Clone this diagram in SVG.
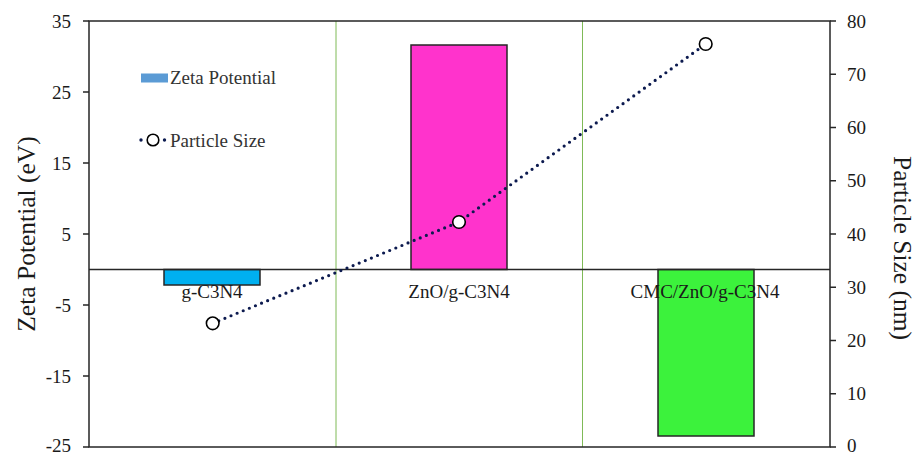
<svg xmlns="http://www.w3.org/2000/svg" width="916" height="454" viewBox="0 0 916 454">
<style>
text{font-family:"Liberation Serif","Times New Roman",serif;fill:#1a1a1a}
.tk{font-size:19px}
.tl{text-anchor:end}
.cat{font-size:19px;text-anchor:middle}
.ttl{font-size:25.5px;text-anchor:middle}
.ax{stroke:#262626;stroke-width:1.5;fill:none}
.grid{stroke:#7fba57;stroke-width:1;fill:none}
.bar{stroke:#262626;stroke-width:1.5}
.ps{stroke:#0c1a4f;stroke-width:3.2;stroke-linecap:round;stroke-dasharray:0 6.6;fill:none}
.mk{fill:#fff;stroke:#000;stroke-width:1.6}
</style>
<rect width="916" height="454" fill="#fff"/>
<g id="gridlines">
<line class="grid" x1="336" y1="21" x2="336" y2="447"/>
<line class="grid" x1="582.5" y1="21" x2="582.5" y2="447"/>
</g>
<g id="bar-gc3n4"><rect class="bar" x="164" y="269.5" width="96" height="15.5" fill="#00b0f0"/></g>
<g id="bar-zno"><rect class="bar" x="411" y="45" width="96" height="224.5" fill="#ff33cc"/></g>
<g id="bar-cmc"><rect class="bar" x="658" y="269.5" width="96" height="166.5" fill="#3cf23c"/></g>
<g id="axes">
<rect class="ax" x="89" y="21" width="741" height="426"/>
<line class="ax" x1="89" y1="269.5" x2="830" y2="269.5"/>
<path class="ax" d="M83 21H89M83 92H89M83 163H89M83 234H89M83 305H89M83 376H89M83 447H89"/>
<path class="ax" d="M830 21H836M830 74.25H836M830 127.5H836M830 180.75H836M830 234H836M830 287.25H836M830 340.5H836M830 393.75H836M830 447H836"/>
</g>
<g id="left-ticks" class="tk">
<text class="tl" x="71" y="27.5">35</text>
<text class="tl" x="71" y="98.5">25</text>
<text class="tl" x="71" y="169.5">15</text>
<text class="tl" x="71" y="240.5">5</text>
<text class="tl" x="71" y="311.5">-5</text>
<text class="tl" x="71" y="382.5">-15</text>
<text class="tl" x="71" y="451.5">-25</text>
</g>
<g id="right-ticks" class="tk">
<text x="847" y="27.5">80</text>
<text x="847" y="80.75">70</text>
<text x="847" y="134">60</text>
<text x="847" y="187.25">50</text>
<text x="847" y="240.5">40</text>
<text x="847" y="293.75">30</text>
<text x="847" y="347">20</text>
<text x="847" y="400.25">10</text>
<text x="847" y="451.5">0</text>
</g>
<g id="category-labels">
<text class="cat" x="212" y="298">g-C3N4</text>
<text class="cat" x="459" y="298">ZnO/g-C3N4</text>
<text class="cat" x="705" y="298">CMC/ZnO/g-C3N4</text>
</g>
<g id="axis-titles">
<text class="ttl" transform="translate(35,234) rotate(-90)">Zeta Potential (eV)</text>
<text class="ttl" transform="translate(894,248) rotate(90)">Particle Size (nm)</text>
</g>
<g id="connectors">
<polyline class="ps" points="212.7,323.3 459,222 705.7,44"/>
</g>
<g id="points">
<circle class="mk" cx="212.7" cy="323.3" r="6.3"/>
<circle class="mk" cx="459" cy="222" r="6.3"/>
<circle class="mk" cx="705.7" cy="44" r="6.3"/>
</g>
<g id="legend">
<rect x="141" y="73.5" width="27" height="9" fill="#5b9bd5"/>
<text class="tk" x="170" y="84" style="fill:#333">Zeta Potential</text>
<circle cx="141" cy="140" r="1.7" fill="#0c1a4f"/>
<circle cx="164.5" cy="140" r="1.7" fill="#0c1a4f"/>
<circle class="mk" cx="153" cy="140" r="5.8"/>
<text class="tk" x="170" y="146.5" style="fill:#333">Particle Size</text>
</g>
</svg>
